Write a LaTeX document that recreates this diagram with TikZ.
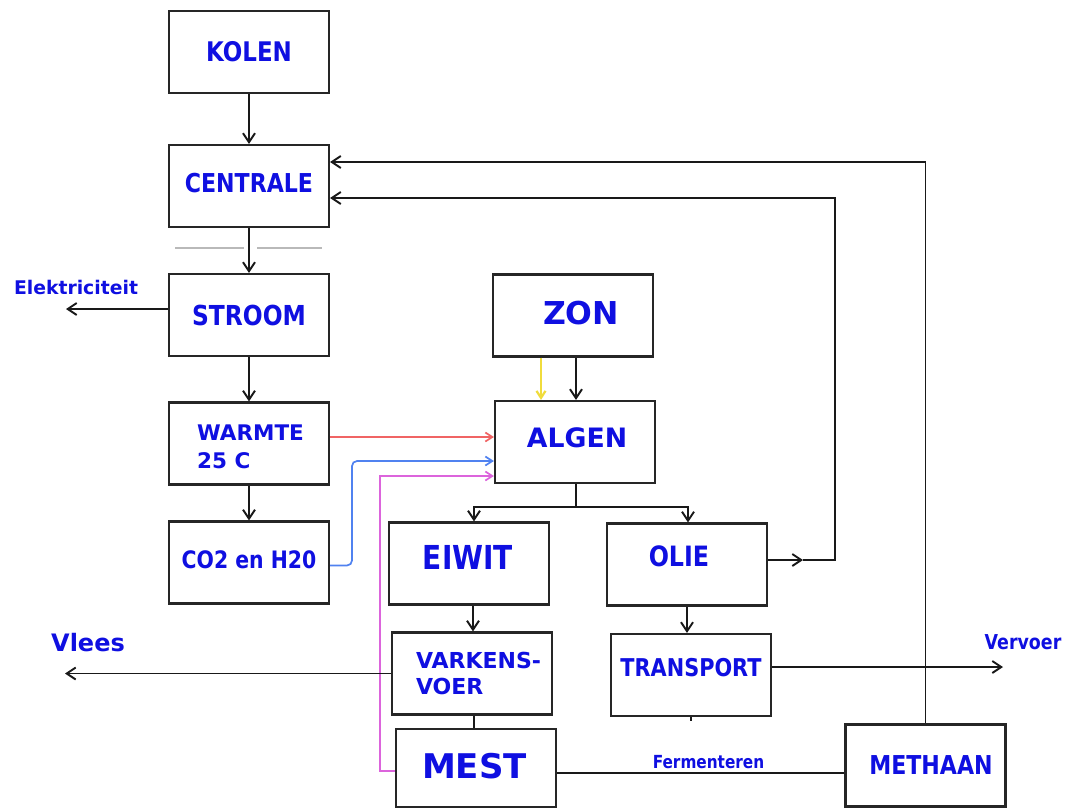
\documentclass[tikz,border=0pt]{standalone}
\usepackage{fontspec}
\usetikzlibrary{arrows.meta}
\newfontfamily\fv{DejaVu Sans}
\newfontfamily\ft{DejaVu Sans}[FakeStretch=0.85]
\definecolor{blueT}{RGB}{15,15,225}
\definecolor{lnred}{RGB}{240,100,100}
\definecolor{lnblue}{RGB}{80,130,240}
\definecolor{lnpink}{RGB}{220,100,220}
\definecolor{lnyel}{RGB}{240,220,60}
\newcommand\fvs[1]{\fv\bfseries\fontsize{#1}{#1}\selectfont}
\newcommand\fts[1]{\ft\bfseries\fontsize{#1}{#1}\selectfont}
\begin{document}
\begin{tikzpicture}[x=1pt,y=-1pt,
  box/.style={draw=black!85, line width=2.2pt, minimum width=160pt, minimum height=82pt, inner sep=0pt},
  lbl/.style={text=blueT, inner sep=0pt},
  arr/.style={line width=1.9pt, draw=black!90, -{Straight Barb[length=9pt,width=12pt]}},
  ln/.style={line width=1.9pt, draw=black!90},
  carr/.style={line width=1.7pt, -{Straight Barb[length=7pt,width=9pt]}}]
\useasboundingbox[fill=white] (0,0) rectangle (1067,809);

% boxes
\node[box, label={[lbl,name=kolenT,font=\fts{27}]center:KOLEN}] (kolen) at (249,52) {};
\node[box, label={[lbl,name=centraleT,font=\fts{26},yshift=3pt]center:CENTRALE}] (centrale) at (249,186) {};
\node[box, label={[lbl,name=stroomT,font=\fts{27.5}]center:STROOM}] (stroom) at (249,315) {};
\node[box, label={[lbl,name=warmteT,font={\fv\bfseries\fontsize{21.5}{28}\selectfont},align=left,xshift=1.5pt,yshift=-3.5pt]center:WARMTE\\25 C}] (warmte) at (249,443.5) {};
\node[box, label={[lbl,name=co2T,font=\fts{24},yshift=2.5pt]center:CO2 en H20}] (co2) at (249,562.5) {};
\node[box, label={[lbl,name=zonT,font=\fvs{31.5},xshift=8pt,yshift=2.5pt]center:ZON}] (zon) at (573,315.5) {};
\node[box, label={[lbl,name=algenT,font=\fvs{26.7},xshift=2pt,yshift=4.5pt]center:ALGEN}] (algen) at (575,442) {};
\node[box, label={[lbl,name=eiwitT,font=\fts{33},xshift=-1pt,yshift=6pt]center:EIWIT}] (eiwit) at (469,563.5) {};
\node[box, label={[lbl,name=olieT,font=\fts{28},xshift=-8pt,yshift=8.5pt]center:OLIE}] (olie) at (687,564.5) {};
\node[box, label={[lbl,name=varkensT,font={\fv\bfseries\fontsize{22}{26}\selectfont},align=left,xshift=6.5pt]center:VARKENS-\\VOER}] (varkens) at (472,673.5) {};
\node[box, label={[lbl,name=transportT,font=\fts{24.5},yshift=7.5pt]center:TRANSPORT}] (transport) at (691,675) {};
\node[box, minimum height=78pt, label={[lbl,name=mestT,font=\fvs{34},xshift=-1.5pt,yshift=1.5pt]center:MEST}] (mest) at (476,768) {};
\node[box, label={[lbl,name=methaanT,font=\fts{26},xshift=5.5pt]center:METHAAN}] (methaan) at (925.5,765.5) {};

% free labels
\node[lbl, font=\fvs{18.8}] (elekT) at (76,287) {Elektriciteit};
\node[lbl, font=\fvs{24}] (vleesT) at (88,643) {Vlees};
\node[lbl, font=\fts{20.5}] (vervoerT) at (1023,642) {Vervoer};
\node[lbl, font=\fts{18}] (fermT) at (708.5,762) {Fermenteren};

\coordinate (elek) at (66,309);
\coordinate (vlees) at (65,673.5);
\coordinate (vervoer) at (1003,667);
\coordinate (split) at (576,507);
\coordinate (oliemid) at (803,560);

% grey line
\draw[gray!55, line width=1.6pt] (175,248) -- (244,248) (257,248) -- (322,248);

% main chain
\draw[arr] (kolen) -- (centrale);
\draw[arr] (centrale) -- (stroom);
\draw[arr] (stroom) -- (warmte);
\draw[arr] (warmte) -- (co2);
\draw[arr] ([yshift=6pt]stroom.west) -- (elek);

% coloured inputs to ALGEN
\draw[carr, lnred] ([yshift=6.5pt]warmte.east) -- ([yshift=6.5pt]warmte.east -| algen.west);
\draw[carr, lnblue, rounded corners=5pt] ([yshift=-3pt]co2.east) -| (352,461) -- (algen.west |- 0,461);
\draw[carr, lnpink] (mest.west |- 0,771) -| (380,476) -- (algen.west |- 0,476);
\draw[carr, lnyel, line width=2.2pt] (zon.south -| 541,0) -- (algen.north -| 541,0);
\draw[arr] (zon.south -| 576,0) -- (algen.north -| 576,0);

% ALGEN split
\draw[ln] (algen.south -| 576,0) -- (split);
\draw[arr] (split) -| (eiwit.north -| 474,0);
\draw[arr] (split) -| (olie.north -| 688,0);

% lower chain
\draw[arr] (eiwit.south -| 473,0) -- (varkens.north -| 473,0);
\draw[ln] (varkens.south -| 474,0) -- (mest.north -| 474,0);
\draw[arr] (varkens.west) -- (vlees);
\draw[arr] (olie.south -| 687,0) -- (transport.north -| 687,0);
\draw[arr] ([yshift=8pt]transport.east) -- (vervoer);
\draw[ln, line width=1.4pt] (transport.south) -- ++(0,4);
\draw[ln] (mest.east |- 0,773) -- (methaan.west |- 0,773);

% feedback loops to CENTRALE
\draw[arr] (methaan.north) |- (centrale.east |- 0,162);
\draw[arr] ([yshift=4.5pt]olie.east) -- (oliemid);
\draw[arr] (oliemid) -- (835,560) |- (centrale.east |- 0,198);
\end{tikzpicture}
\end{document}
